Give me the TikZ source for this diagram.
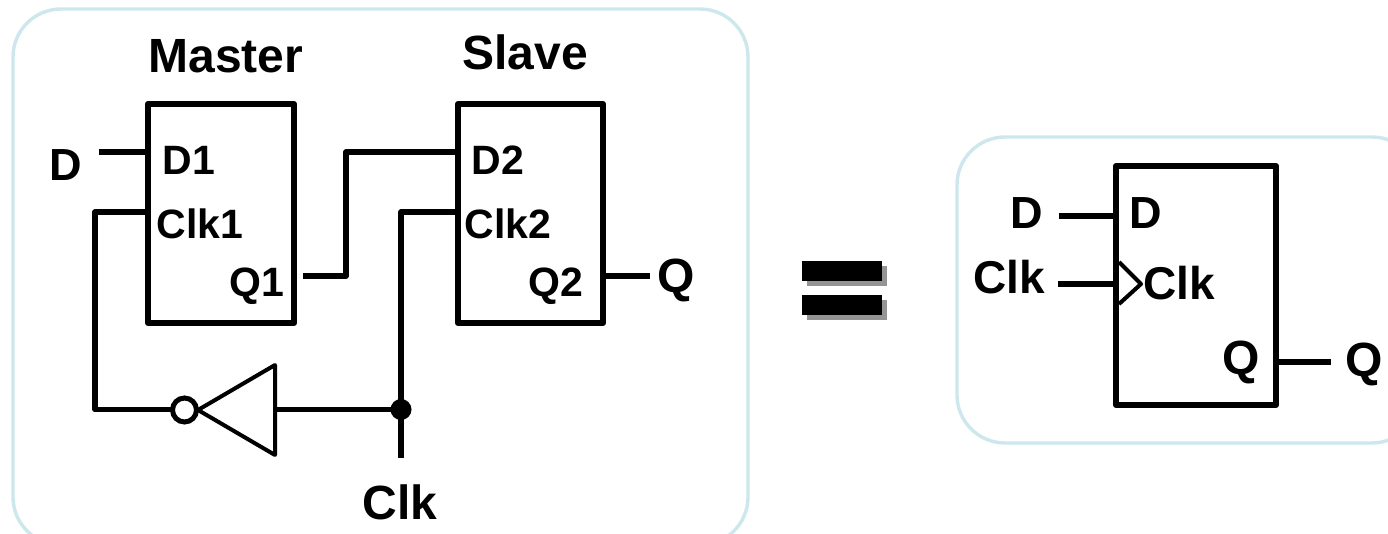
\documentclass[tikz,border=0pt]{standalone}
\usepackage{fontspec}
\setmainfont{Liberation Sans}
\tikzset{
  panel/.style={draw=panelline,line width=1.7pt,rounded corners=24pt,fill=white},
  ffbox/.style={draw,line width=3pt,line join=round,minimum width=#1,inner sep=0pt,outer sep=0pt},
  wire/.style={line width=2.8pt,line join=round},
  big/.style={font=\bfseries\fontsize{24}{24}\selectfont,anchor=base,inner sep=0pt},
  lab/.style={font=\bfseries\fontsize{22.5}{22.5}\selectfont,anchor=base,inner sep=0pt},
  small/.style={font=\bfseries\fontsize{20.5}{20.5}\selectfont,anchor=base,inner sep=0pt},
  mid/.style={font=\bfseries\fontsize{23}{23}\selectfont,anchor=base,inner sep=0pt},
  thin wire/.style={line width=2pt,line join=round},
  eqbar/.style={fill=black,draw=none},
  eqshadow/.style={fill=black!42,draw=none}
}
\definecolor{panelline}{RGB}{205,232,236}
\begin{document}
\begin{tikzpicture}[x=0.5pt,y=-0.5pt]
\useasboundingbox (0,0) rectangle (1388,534);
\clip (0,0) rectangle (1388,534);
% panels
\draw[panel] (13,9) rectangle (748,545);
\draw[panel] (957,137) rectangle (1420,443);
% boxes
\node[ffbox=73pt,minimum height=109.5pt] (master) at (221,213.5) {};
\node[ffbox=72.5pt,minimum height=109.5pt] (slave) at (530.5,213.5) {};
\node[ffbox=80pt,minimum height=119.5pt] (ff) at (1196,285.5) {};
% free ends
\coordinate (dIn) at (99,152);
\coordinate (m1) at (148,152);
\coordinate (mClk) at (148,212);
\coordinate (mQ) at (303,276);
\coordinate (s1) at (458,152);
\coordinate (sClk) at (458,212);
\coordinate (sQ) at (603,276);
\coordinate (qOut) at (650,276);
\coordinate (clkIn) at (401,458);
% inverter
\coordinate (invTip) at (198,410);
\coordinate (invTop) at (275,365);
\coordinate (invBot) at (275,455);
\coordinate (invIn) at (275,409.5);
\node[circle,fill=black,minimum size=10.5pt,inner sep=0pt,outer sep=0pt] (dot) at (401,409.5) {};
\draw[thin wire] (invTip) -- (invTop) -- (invBot) -- cycle;
% wires
\draw[wire] (dIn) -- (m1);
\draw[wire] (mClk) -| (95,409.5) -- (172,409.5);
\node[circle,draw,line width=2.5pt,fill=white,minimum size=12pt,inner sep=0pt,outer sep=0pt] (bub) at (184.5,410) {};
\draw[wire] (mQ) -- (346,276) |- (s1);
\draw[wire] (sClk) -- (401,212) -- (clkIn);
\draw[wire] (invIn) -- (dot);
\draw[wire] (sQ) -- (qOut);
% right wires
\coordinate (rD) at (1059,216);
\coordinate (rDe) at (1116,216);
\coordinate (rC) at (1058,284);
\coordinate (rCe) at (1116,284);
\coordinate (rQs) at (1276,362);
\coordinate (rQ) at (1331,362);
\draw[wire] (rD) -- (rDe);
\draw[wire] (rC) -- (rCe);
\draw[wire] (rQs) -- (rQ);
\draw[thin wire] (1119,262) -- (1141,284) -- (1119,304);
% equals
\fill[eqshadow] (807,266) rectangle (887,286);
\fill[eqshadow] (807,300) rectangle (887,320);
\fill[eqbar] (802,261) rectangle (882,281);
\fill[eqbar] (802,295) rectangle (882,315);
% labels
\node[big] (tM) at (226,73) {Master};
\node[big] (tS) at (525,70) {Slave};
\node[lab] (tD) at (66,181) {D};
\node[small] (tD1) at (189,175) {D1};
\node[small] (tC1) at (200,239) {Clk1};
\node[small] (tQ1) at (257,297) {Q1};
\node[small] (tD2) at (498,175) {D2};
\node[small] (tC2) at (508,239) {Clk2};
\node[small] (tQ2) at (556,297) {Q2};
\node[big] (tQ) at (676,293) {Q};
\node[big] (tClk) at (400,519) {Clk};
\node[lab] (rtD) at (1027,229) {D};
\node[mid] (rtClk) at (1009,294) {Clk};
\node[lab] (ritD) at (1146,229) {D};
\node[mid] (ritClk) at (1179,300) {Clk};
\node[big] (ritQ) at (1241,375) {Q};
\node[big] (rtQ) at (1364,377) {Q};
\end{tikzpicture}
\end{document}
